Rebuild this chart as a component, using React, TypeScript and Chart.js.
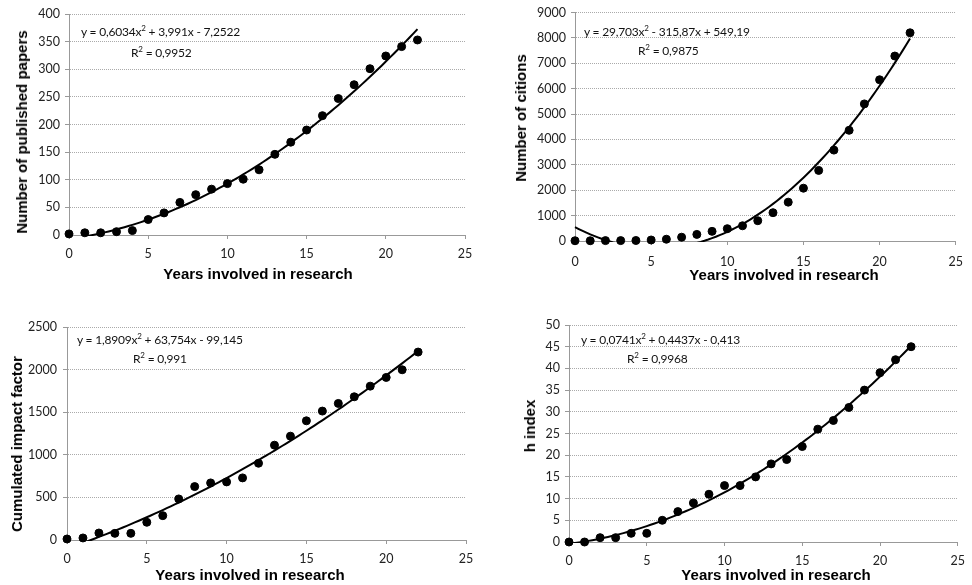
import React, { useEffect, useRef } from "react";
import { Chart, registerables } from "chart.js";

Chart.register(...registerables);

// ---------------- data ----------------
const years = [0, 1, 2, 3, 4, 5, 6, 7, 8, 9, 10, 11, 12, 13, 14, 15, 16, 17, 18, 19, 20, 21, 22];
const papers = [2, 4, 4, 6, 8, 28, 40, 59, 73, 83, 93, 101, 118, 146, 168, 190, 216, 247, 272, 301, 324, 341, 353];
const citations = [10, 10, 15, 15, 20, 40, 70, 150, 260, 380, 485, 600, 800, 1115, 1530, 2080, 2780, 3580, 4360, 5400, 6350, 7285, 8200];
const impactFactor = [12, 24, 82, 78, 78, 208, 286, 482, 627, 670, 682, 729, 901, 1113, 1219, 1399, 1513, 1603, 1681, 1806, 1908, 1998, 2206];
const hIndex = [0, 0, 1, 1, 2, 2, 5, 7, 9, 11, 13, 13, 15, 18, 19, 22, 26, 28, 31, 35, 39, 42, 45];

// trendline coefficients (a, b, c) as printed on the chart
const papersFit = [0.6034, 3.991, -7.2522];
const citationsFit = [29.703, -315.87, 549.19];
const impactFit = [1.8909, 63.754, -99.145];
const hIndexFit = [0.0741, 0.4437, -0.413];

// equation labels
const papersEq = ["y = 0,6034x", " + 3,991x - 7,2522", "0,9952"];
const citationsEq = ["y = 29,703x", " - 315,87x + 549,19", "0,9875"];
const impactEq = ["y = 1,8909x", " + 63,754x - 99,145", "0,991"];
const hIndexEq = ["y = 0,0741x", " + 0,4437x - 0,413", "0,9968"];

const xAxisTitle = "Years involved in research";
const xMax = 25;
const xStep = 5;

// ---------------- layout ----------------
const panels = [
  {
    values: papers, fit: papersFit, eq: papersEq, yTitle: "Number of published papers", yMax: 400, yStep: 50,
    left: 0, top: 0, w: 486, h: 290, padTop: 14, padRight: 21, yW: 69, xH: 55, xTickPad: 7, yTickPad: 5,
    eqX: 81, eqY: 32, r2X: 131, r2Y: 53, xtX: 258, xtY: 274, ytX: 22, ytY: 132,
  },
  {
    values: citations, fit: citationsFit, eq: citationsEq, yTitle: "Number of citions", yMax: 9000, yStep: 1000,
    left: 486, top: 0, w: 486, h: 290, padTop: 12, padRight: 4, yW: 89, xH: 49, xTickPad: 9, yTickPad: 5,
    eqX: 584, eqY: 32, r2X: 638, r2Y: 51, xtX: 784, xtY: 275, ytX: 521, ytY: 118,
  },
  {
    values: impactFactor, fit: impactFit, eq: impactEq, yTitle: "Cumulated impact factor", yMax: 2500, yStep: 500,
    left: 0, top: 290, w: 486, h: 295, padTop: 37, padRight: 20, yW: 67, xH: 45, xTickPad: 7, yTickPad: 6,
    eqX: 77, eqY: 340, r2X: 133, r2Y: 359, xtX: 250, xtY: 575, ytX: 17, ytY: 444,
  },
  {
    values: hIndex, fit: hIndexFit, eq: hIndexEq, yTitle: "h index", yMax: 50, yStep: 5,
    left: 486, top: 290, w: 486, h: 295, padTop: 35, padRight: 6, yW: 83, xH: 43, xTickPad: 7, yTickPad: 5,
    eqX: 581, eqY: 340, r2X: 627, r2Y: 359, xtX: 776, xtY: 575, ytX: 530, ytY: 426,
  },
];

const tickFont = { family: "Lato, 'Open Sans', sans-serif", size: 12.5 };
const titleFont = "bold 15px 'Liberation Sans', Arial, sans-serif";
const eqFont = "12px Lato, 'Open Sans', sans-serif";

function Panel({ p }: { p: any }) {
  const ref = useRef<HTMLCanvasElement>(null);
  useEffect(() => {
    const [a, b, c] = p.fit;
    const fitPts: { x: number; y: number }[] = [];
    const last = years[years.length - 1];
    for (let i = 0; i <= last * 4; i++) {
      const x = i / 4;
      fitPts.push({ x, y: a * x * x + b * x + c });
    }
    const pts = years.map((x, i) => ({ x, y: p.values[i] }));
    const chart = new Chart(ref.current as HTMLCanvasElement, {
      type: "scatter",
      data: {
        datasets: [
          {
            type: "line",
            data: fitPts,
            borderColor: "#000",
            borderWidth: 2,
            pointRadius: 0,
            fill: false,
            tension: 0,
            order: 2,
            clip: 1,
          } as any,
          {
            data: pts,
            backgroundColor: "#000",
            borderColor: "#000",
            pointRadius: 4,
            pointHoverRadius: 4,
            order: 1,
            clip: false,
          } as any,
        ],
      },
      options: {
        animation: false,
        responsive: false,
        devicePixelRatio: 1,
        events: [],
        layout: { padding: { left: 0, top: p.padTop, right: p.padRight, bottom: 0 } },
        plugins: { legend: { display: false }, tooltip: { enabled: false }, title: { display: false } },
        scales: {
          x: {
            type: "linear",
            min: 0,
            max: xMax,
            ticks: { stepSize: xStep, font: tickFont, color: "#222", padding: p.xTickPad, callback: (v: any) => String(v) },
            grid: { drawOnChartArea: false, drawTicks: true, tickLength: 4, color: "#999", tickColor: "#999" },
            border: { display: true, color: "#999", width: 1 },
            afterFit: (s: any) => { s.height = p.xH; },
          },
          y: {
            type: "linear",
            min: 0,
            max: p.yMax,
            ticks: { stepSize: p.yStep, font: tickFont, color: "#222", padding: p.yTickPad, callback: (v: any) => String(v) },
            grid: { drawOnChartArea: true, drawTicks: true, tickLength: 4, color: "#aaa", tickColor: "#999", tickBorderDash: [] },
            border: { display: true, color: "#999", width: 1, dash: [1, 1] },
            afterFit: (s: any) => { s.width = p.yW; },
          },
        },
      } as any,
    });
    return () => chart.destroy();
  }, [p]);
  const sup = { fontSize: 8, position: "relative" as const, top: -5 };
  const eqStyle = { position: "absolute" as const, font: eqFont, lineHeight: "14px", whiteSpace: "nowrap" as const, color: "#111", letterSpacing: "-0.2px" };
  return (
    <>
      <canvas
        ref={ref}
        width={p.w}
        height={p.h}
        style={{ position: "absolute", left: p.left, top: p.top, width: p.w, height: p.h }}
      />
      <div style={{ ...eqStyle, left: p.eqX, top: p.eqY - 7 }}>
        {p.eq[0]}<span style={sup}>2</span>{p.eq[1]}
      </div>
      <div style={{ ...eqStyle, left: p.r2X, top: p.r2Y - 7 }}>
        R<span style={sup}>2</span> = {p.eq[2]}
      </div>
      <div style={{ position: "absolute", left: p.xtX, top: p.xtY, transform: "translate(-50%, -50%)", font: titleFont, lineHeight: "18px", whiteSpace: "nowrap", color: "#000" }}>
        {xAxisTitle}
      </div>
      <div style={{ position: "absolute", left: p.ytX, top: p.ytY, transform: "translate(-50%, -50%) rotate(-90deg)", font: titleFont, lineHeight: "18px", whiteSpace: "nowrap", color: "#000" }}>
        {p.yTitle}
      </div>
    </>
  );
}

export default function App() {
  return (
    <div style={{ position: "fixed", left: 0, top: 0, width: 972, height: 585, background: "#fff", overflow: "hidden" }}>
      {panels.map((p, i) => (
        <Panel key={i} p={p} />
      ))}
    </div>
  );
}
